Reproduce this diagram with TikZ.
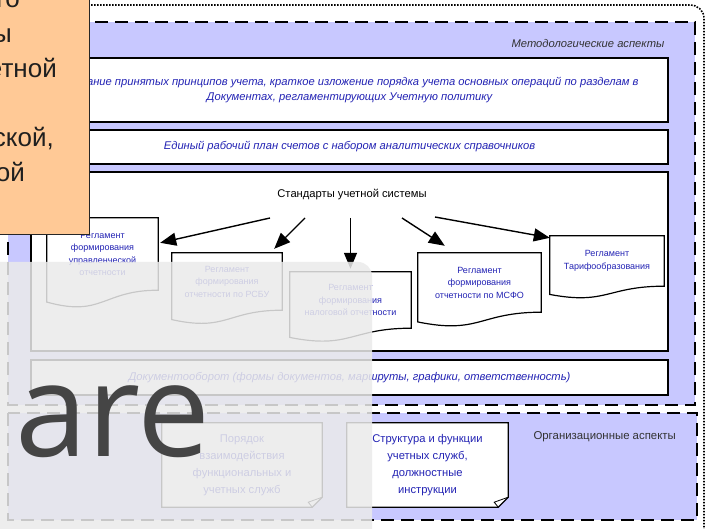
\documentclass[tikz,border=0pt]{standalone}
\usepackage{fontspec}
\setmainfont{Liberation Sans}
\newfontfamily\capfont{Open Sans}
\usetikzlibrary{arrows.meta,calc}

% document symbol: wavy bottom below the node box (#2 = box height)
\newcommand{\docoutline}[2]{
  \draw[docline] (#1.north west) -- (#1.north east) -- (#1.south east)
    .. controls (#1.south) and ($(#1.south)+(0,{#2*0.38})$) .. ($(#1.south west)+(0,{#2*0.165})$) -- cycle;
}
% note with folded corner
\newcommand{\noteoutline}[1]{
  \fill[lavender] ([yshift=10pt]#1.south east) -- (#1.south east) -- ([xshift=-10pt]#1.south east) -- cycle;
  \draw[docline] (#1.north west) -- (#1.north east) -- ([yshift=10pt]#1.south east) -- ([xshift=-10pt]#1.south east) -- (#1.south west) -- cycle;
  \draw[docline, line width=0.8pt] ([yshift=10pt]#1.south east) -- ([xshift=-14pt,yshift=5pt]#1.south east) -- ([xshift=-10pt]#1.south east);
}

\begin{document}
\begin{tikzpicture}[x=1pt,y=-1pt]
  \definecolor{lavender}{HTML}{C8C8FF}
  \definecolor{peach}{HTML}{FFC996}
  \definecolor{txtblue}{HTML}{2323B4}
  \definecolor{veil}{HTML}{EBEBEB}
  \tikzstyle{aspect}=[draw=black, fill=lavender, line width=1.8pt, dash pattern=on 13pt off 7pt]
  \tikzstyle{block}=[draw=black, fill=white, line width=1.2pt, minimum width=637pt, inner sep=0pt,
    font=\itshape\fontsize{11.2}{15}\selectfont, text=txtblue, align=center]
  \tikzstyle{docline}=[draw=black, line width=1.2pt]
  \tikzstyle{doc}=[font=\fontsize{9}{12.5}\selectfont, text=txtblue, align=center, inner sep=0pt]
  \tikzstyle{note}=[fill=white, font=\fontsize{11.2}{17}\selectfont, text=txtblue, align=center,
    inner sep=0pt, minimum width=160pt, minimum height=84pt]
  \tikzstyle{std arrow}=[line width=1.4pt, -{Triangle[length=16pt,width=13pt]}]
  \tikzstyle{intro}=[font=\fontsize{26}{26}\selectfont, text=black!88, anchor=base east, inner sep=0pt]

  \clip (0,0) rectangle (705,529);
  \fill[white] (0,0) rectangle (705,529);

  % outer frame
  \draw[line width=1.6pt, dash pattern=on 1.6pt off 1.4pt] (-20,5) -- (690,5) to[out=0,in=90] (704,18) -- (704,560);

  % aspects
  \path[aspect] (8,22) rectangle (695,405);
  \path[aspect] (8,413) rectangle (697,520);
  \node[font=\itshape\fontsize{11.2}{13}\selectfont, text=black!80, anchor=east] (methlabel) at (668,43) {Методологические аспекты};
  \node[font=\fontsize{11.4}{13}\selectfont, text=black!80, anchor=west] (orglabel) at (530,437) {Организационные аспекты};

  % methodological blocks
  \node[block, minimum height=64pt] (policy) at (349.5,90) {Описание принятых принципов учета, краткое изложение порядка учета основных операций по разделам в\\Документах, регламентирующих Учетную политику};
  \node[block, minimum height=34pt] (chart) at (349.5,147) {Единый рабочий план счетов с набором аналитических справочников};
  \node[block, minimum height=179pt] (standbox) at (349.5,261.5) {};
  \node[block, minimum height=35pt] (docflow) at (349.5,377.5) {Документооборот (формы документов, маршруты, графики, ответственность)};

  \node[font=\fontsize{11.2}{13}\selectfont] (standards) at (352,195) {Стандарты учетной системы};

  % documents
  \node[doc, minimum width=111pt, minimum height=72pt] (doc1) at (102.5,254) {Регламент\\формирования\\управленческой\\отчетности};
  \node[doc, minimum width=110pt, minimum height=57pt] (doc2) at (227,281.5) {Регламент\\формирования\\отчетности по РСБУ};
  \node[doc, minimum width=121pt, minimum height=56pt] (doc3) at (350.5,300) {Регламент\\формирования\\налоговой отчетности};
  \node[doc, minimum width=123pt, minimum height=59pt] (doc4) at (479.5,282.5) {Регламент\\формирования\\отчетности по МСФО};
  \node[doc, minimum width=114pt, minimum height=50pt] (doc5) at (607,261) {Регламент\\Тарифообразования};
  \docoutline{doc1}{72}
  \docoutline{doc2}{57}
  \docoutline{doc3}{56}
  \docoutline{doc4}{59}
  \docoutline{doc5}{50}

  \coordinate (s1) at (270,218);
  \coordinate (s2) at (305,218);
  \coordinate (s3) at (350.5,218);
  \coordinate (s4) at (402,218);
  \coordinate (s5) at (435,217);
  \draw[std arrow] (s1) -- ([xshift=2pt,yshift=-25pt]doc1.north east);
  \draw[std arrow] (s2) -- ([xshift=-8pt,yshift=4pt]doc2.north east);
  \draw[std arrow] (s3) -- ([yshift=3pt]doc3.north);
  \draw[std arrow] (s4) -- ([xshift=27pt,yshift=7pt]doc4.north west);
  \draw[std arrow] (s5) -- ([yshift=-2pt]doc5.north west);

  % organizational notes
  \node[note] (interact) at (242,465) {Порядок\\взаимодействия\\функциональных и\\учетных служб};
  \node[note, minimum width=161pt] (structure) at (427.5,465) {Структура и функции\\учетных служб,\\должностные\\инструкции};
  \noteoutline{interact}
  \noteoutline{structure}

  % slide title box (cut off)
  \node[draw=black!85, fill=peach, line width=1.2pt, minimum width=140pt, minimum height=285pt, anchor=south east] (introbox) at (90,235) {};
  \node[intro] (intro1) at (20,8) {го};
  \node[intro] (intro2) at (12,43) {ы};
  \node[intro] (intro3) at (57,78) {етной};
  \node[intro] (intro4) at (54,147) {ской,};
  \node[intro] (intro5) at (25,182) {ой};

  % caption overlay
  \fill[veil, opacity=0.85, rounded corners=14pt] (-30,262) rectangle (372,560);
  \node[font=\capfont\fontsize{130}{130}\selectfont, text=black!73, anchor=base west, inner sep=0pt] (caption) at (15,457) {are};
\end{tikzpicture}
\end{document}
